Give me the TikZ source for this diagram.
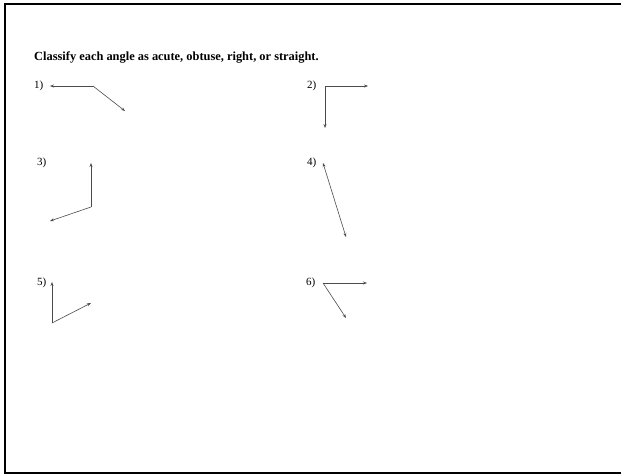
\documentclass[tikz,border=0pt]{standalone}
\usepackage{fontspec}
\setmainfont{Liberation Serif}
\usepackage{tikz}
\usetikzlibrary{arrows.meta}

\begin{document}
\begin{tikzpicture}[x=1pt,y=-1pt,
  ray/.style={black!70,line width=0.6pt,-{Stealth[length=4pt,width=3pt]}},
  numlbl/.style={anchor=base west,inner sep=0pt,font=\fontsize{11}{13}\selectfont}]
  \useasboundingbox (0,0) rectangle (621,475);
  \draw[line width=2pt] (5,4) rectangle (624,473);
  \node[anchor=base west,inner sep=0pt,font=\fontsize{12.4}{14}\selectfont\bfseries] (title) at (34,60)
    {Classify each angle as acute, obtuse, right, or straight.};
  % label / vertex / first tip / second tip
  \foreach \n/\lx/\ly/\vx/\vy/\ax/\ay/\bx/\by in {
      1/34/88/93/86/50/86/125/111,
      2/307/88/325/86/368/86/325/128,
      3/37/165/91/207/91/163/50/221,
      4/307/165/334.5/200/323/163/346/237,
      5/37/285/52/323/52/282/91/303,
      6/306/285/323/283/367/283/346/318}{
    \node[numlbl] (lbl\n) at (\lx,\ly) {\n)};
    \coordinate (v\n) at (\vx,\vy);
    \coordinate (a\n) at (\ax,\ay);
    \coordinate (b\n) at (\bx,\by);
    \draw[ray] (v\n) -- (a\n);
    \draw[ray] (v\n) -- (b\n);
  }
\end{tikzpicture}
\end{document}
